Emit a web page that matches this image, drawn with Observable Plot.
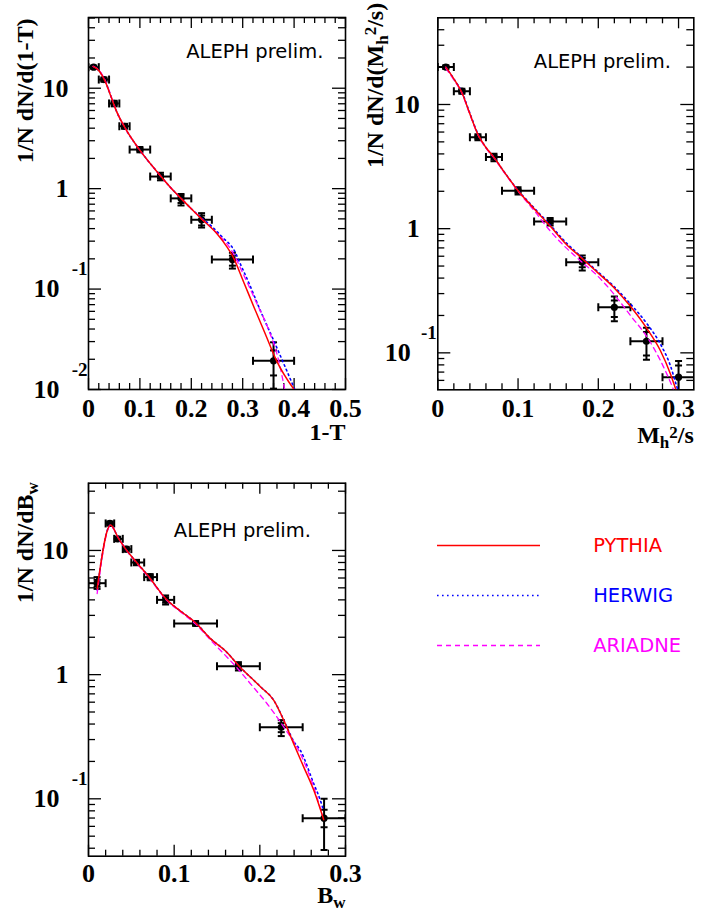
<!DOCTYPE html>
<html><head><meta charset="utf-8">
<script src="https://cdn.jsdelivr.net/npm/d3@7"></script>
<script src="https://cdn.jsdelivr.net/npm/@observablehq/plot@0.6"></script>
<style>
body{margin:0;background:#fff;}
#root{position:relative;width:702px;height:911px;overflow:hidden;background:#fff;}
</style></head><body><div id="root"></div>
<script>
// ---------- Thrust (1-T) ----------
const thrustX    = [0.01, 0.03, 0.05, 0.07, 0.10, 0.14, 0.18, 0.22, 0.28, 0.36];
const thrustXlo  = [0.00, 0.02, 0.04, 0.06, 0.08, 0.12, 0.16, 0.20, 0.24, 0.32];
const thrustXhi  = [0.02, 0.04, 0.06, 0.08, 0.12, 0.16, 0.20, 0.24, 0.32, 0.40];
const thrustY    = [16.2, 12.2, 7.05, 4.18, 2.45, 1.32, 0.80, 0.49, 0.197, 0.0193];
const thrustYlo  = [15.6, 11.6, 6.6, 3.95, 2.30, 1.21, 0.68, 0.41, 0.16, 0.0102];
const thrustYhi  = [16.8, 12.8, 7.5, 4.42, 2.60, 1.44, 0.885, 0.57, 0.23, 0.0295];
const thrustStatLo = [15.9, 11.9, 6.85, 4.07, 2.38, 1.27, 0.72, 0.43, 0.171, 0.0138];
const thrustStatHi = [16.5, 12.5, 7.25, 4.30, 2.52, 1.38, 0.853, 0.54, 0.215, 0.0245];
const thrustPythiaX = [0.009, 0.02, 0.033, 0.043, 0.0525, 0.072, 0.098, 0.134, 0.16, 0.18, 0.20, 0.22, 0.25, 0.27, 0.28, 0.302, 0.322, 0.344, 0.366, 0.405];
const thrustPythiaY = [16.5, 15.0, 11.5, 8.45, 6.23, 3.95, 2.49, 1.46, 1.02, 0.80, 0.63, 0.50, 0.355, 0.26, 0.215, 0.117, 0.066, 0.0357, 0.0193, 0.0092];
const thrustHerwigX = [0.009, 0.02, 0.033, 0.043, 0.0525, 0.072, 0.098, 0.134, 0.16, 0.18, 0.20, 0.22, 0.24, 0.26, 0.285, 0.296, 0.309, 0.335, 0.36, 0.383, 0.402];
const thrustHerwigY = [16.5, 15.0, 11.6, 8.5, 6.23, 3.95, 2.49, 1.46, 1.02, 0.80, 0.63, 0.51, 0.42, 0.33, 0.235, 0.175, 0.125, 0.06, 0.031, 0.0166, 0.0098];
const thrustAriadneX = [0.009, 0.02, 0.033, 0.043, 0.0525, 0.072, 0.098, 0.134, 0.16, 0.18, 0.20, 0.22, 0.25, 0.28, 0.30, 0.328, 0.351, 0.370, 0.383];
const thrustAriadneY = [16.5, 15.2, 11.8, 8.6, 6.3, 3.95, 2.49, 1.46, 1.02, 0.80, 0.63, 0.50, 0.36, 0.235, 0.145, 0.071, 0.0386, 0.0194, 0.0092];
const thrustXTicks = [0, 0.1, 0.2, 0.3, 0.4, 0.5];
const thrustXText  = ["0", "0.1", "0.2", "0.3", "0.4", "0.5"];
const thrustYTicks = [0.01, 0.1, 1, 10];
const thrustYText  = ["10", "10", "1", "10"];
const thrustYExp   = ["-2", "-1", "", ""];

// ---------- Heavy jet mass (Mh^2/s) ----------
const massX    = [0.01, 0.03, 0.05, 0.07, 0.10, 0.14, 0.18, 0.22, 0.26, 0.30];
const massXlo  = [0.00, 0.02, 0.04, 0.06, 0.08, 0.12, 0.16, 0.20, 0.24, 0.28];
const massXhi  = [0.02, 0.04, 0.06, 0.08, 0.12, 0.16, 0.20, 0.24, 0.28, 0.32];
const massY    = [20.0, 12.8, 5.45, 3.77, 2.02, 1.14, 0.537, 0.233, 0.124, 0.0637];
const massYlo  = [19.3, 12.2, 5.15, 3.49, 1.88, 1.06, 0.46, 0.18, 0.088, 0.04];
const massYhi  = [20.7, 13.4, 5.75, 4.01, 2.16, 1.22, 0.608, 0.284, 0.159, 0.086];
const massStatLo = [19.6, 12.5, 5.3, 3.6, 1.95, 1.10, 0.49, 0.194, 0.095, 0.05];
const massStatHi = [20.4, 13.1, 5.6, 3.9, 2.09, 1.18, 0.58, 0.264, 0.147, 0.079];
const massPythiaX = [0.01, 0.02, 0.03, 0.04, 0.05, 0.06, 0.07, 0.08, 0.10, 0.12, 0.14, 0.16, 0.178, 0.1985, 0.219, 0.24, 0.2608, 0.2773, 0.2898, 0.2969, 0.302];
const massPythiaY = [20.0, 16.1, 12.5, 8.4, 5.75, 4.5, 3.75, 3.03, 2.02, 1.45, 1.05, 0.75, 0.59, 0.447, 0.338, 0.237, 0.156, 0.1045, 0.068, 0.05, 0.04];
const massHerwigX = [0.01, 0.02, 0.03, 0.04, 0.05, 0.06, 0.07, 0.08, 0.10, 0.12, 0.14, 0.16, 0.178, 0.1985, 0.219, 0.24, 0.2608, 0.2773, 0.2898, 0.298, 0.303];
const massHerwigY = [20.0, 16.1, 12.6, 8.5, 5.8, 4.5, 3.75, 3.03, 2.04, 1.47, 1.07, 0.77, 0.60, 0.455, 0.345, 0.248, 0.171, 0.118, 0.079, 0.053, 0.042];
const massAriadneX = [0.01, 0.02, 0.03, 0.04, 0.05, 0.06, 0.07, 0.08, 0.10, 0.12, 0.14, 0.16, 0.178, 0.1985, 0.219, 0.24, 0.2608, 0.2773, 0.294, 0.298];
const massAriadneY = [19.5, 15.8, 12.3, 8.3, 5.7, 4.45, 3.72, 3.0, 2.0, 1.40, 0.96, 0.70, 0.55, 0.42, 0.30, 0.20, 0.134, 0.087, 0.05, 0.043];
const massXTicks = [0, 0.1, 0.2, 0.3];
const massXText  = ["0", "0.1", "0.2", "0.3"];
const massYTicks = [0.1, 1, 10];
const massYText  = ["10", "1", "10"];
const massYExp   = ["-1", "", ""];

// ---------- Wide jet broadening (Bw) ----------
const bwX    = [0.01, 0.025, 0.034, 0.044, 0.056, 0.072, 0.09, 0.125, 0.175, 0.225, 0.275];
const bwXlo  = [0.00, 0.02, 0.03, 0.04, 0.05, 0.065, 0.08, 0.10, 0.15, 0.20, 0.25];
const bwXhi  = [0.02, 0.03, 0.04, 0.05, 0.065, 0.08, 0.10, 0.15, 0.20, 0.25, 0.30];
const bwY    = [5.45, 16.5, 12.4, 10.25, 8.0, 6.1, 4.0, 2.58, 1.17, 0.377, 0.0698];
const bwYlo  = [4.9, 15.9, 11.9, 9.8, 7.6, 5.75, 3.67, 2.47, 1.08, 0.32, 0.0387];
const bwYhi  = [6.1, 17.1, 12.9, 10.7, 8.4, 6.45, 4.34, 2.70, 1.26, 0.43, 0.100];
const bwStatLo = [5.1, 16.1, 12.1, 10.0, 7.8, 5.9, 3.8, 2.52, 1.12, 0.344, 0.059];
const bwStatHi = [5.8, 16.9, 12.7, 10.5, 8.2, 6.3, 4.2, 2.64, 1.22, 0.407, 0.0817];
const bwPythiaX = [0.0101, 0.0257, 0.035, 0.0432, 0.055, 0.07, 0.09, 0.11, 0.125, 0.1424, 0.16, 0.1754, 0.2007, 0.2163, 0.228, 0.2396, 0.2513, 0.263, 0.2745];
const bwPythiaY = [4.9, 16.0, 12.5, 10.3, 8.2, 6.2, 4.1, 3.15, 2.62, 1.95, 1.55, 1.18, 0.80, 0.62, 0.428, 0.277, 0.18, 0.117, 0.068];
const bwHerwigX = [0.0101, 0.0257, 0.035, 0.0432, 0.055, 0.07, 0.09, 0.11, 0.125, 0.1424, 0.16, 0.1754, 0.2007, 0.2163, 0.228, 0.2396, 0.2474, 0.263, 0.2707, 0.2745];
const bwHerwigY = [4.8, 16.0, 12.5, 10.3, 8.2, 6.2, 4.1, 3.15, 2.62, 1.95, 1.55, 1.18, 0.80, 0.62, 0.43, 0.29, 0.245, 0.132, 0.097, 0.08];
const bwAriadneX = [0.0101, 0.0257, 0.035, 0.0432, 0.055, 0.07, 0.09, 0.11, 0.125, 0.1424, 0.1618, 0.175, 0.189, 0.2085, 0.228, 0.2474, 0.263, 0.2727];
const bwAriadneY = [4.5, 15.8, 12.6, 10.3, 8.1, 6.1, 4.05, 3.1, 2.55, 1.9, 1.38, 1.1, 0.845, 0.583, 0.378, 0.23, 0.124, 0.075];
const bwXTicks = [0, 0.1, 0.2, 0.3];
const bwXText  = ["0", "0.1", "0.2", "0.3"];
const bwYTicks = [0.1, 1, 10];
const bwYText  = ["10", "1", "10"];
const bwYExp   = ["-1", "", ""];

// ---------- Legend ----------
const modelNames  = ["PYTHIA", "HERWIG", "ARIADNE"];
const modelColors = ["#ff0000", "#0000ff", "#ff00ff"];
const modelDashes = ["none", "1.6,3.4", "5,4"];
const modelWidths = [1.5, 1.6, 1.3];

const SERIF = "'Liberation Serif','Times New Roman',serif";
const SANS = "'DejaVu Sans',sans-serif";

function table(x, y, xlo, xhi, ylo, yhi, slo, shi) {
  return x.map((v, i) => ({x: v, y: y[i], xlo: xlo[i], xhi: xhi[i], ylo: ylo[i], yhi: yhi[i], slo: slo[i], shi: shi[i]}));
}
function curve(x, y) { return x.map((v, i) => ({x: v, y: y[i]})); }
function logMinor(domain) {
  const out = [];
  for (let k = -3; k <= 2; k++) for (let m = 2; m <= 9; m++) {
    const v = m * Math.pow(10, k);
    if (v >= domain[0] && v <= domain[1]) out.push(v);
  }
  return out;
}
function linMinor(domain, step) {
  const out = [];
  for (let i = 0; i * step <= domain[1] + 1e-9; i++) {
    const v = +(i * step).toFixed(4);
    if (Math.abs(v * 10 - Math.round(v * 10)) > 1e-6) out.push(v);
  }
  return out;
}
const hCap = {draw(ctx, size) { const r = Math.sqrt(size / Math.PI); ctx.moveTo(-r, 0); ctx.lineTo(r, 0); }};
const vCap = {draw(ctx, size) { const r = Math.sqrt(size / Math.PI); ctx.moveTo(0, -r); ctx.lineTo(0, r); }};

function richify(svg, str, segs, supShift) {
  const t = Array.from(svg.querySelectorAll("text")).find(el => el.textContent === str);
  if (!t) return;
  while (t.firstChild) t.removeChild(t.firstChild);
  let shift = 0;
  for (const s of segs) {
    const ts = document.createElementNS("http://www.w3.org/2000/svg", "tspan");
    ts.textContent = s.t;
    const target = s.sub ? 5 : s.sup ? supShift : 0;
    if (target - shift !== 0) ts.setAttribute("dy", target - shift);
    shift = target;
    if (s.sub || s.sup) ts.setAttribute("font-size", 17);
    t.appendChild(ts);
  }
}

function panel(c) {
  const W = c.width - c.ml - c.mr, H = c.height - c.mt - c.mb;
  const pts = table(...c.pts);
  const xMajor = c.xTicks;
  const xMinor = linMinor(c.xDomain, 0.02);
  const yMajor = c.yTicks.filter(v => v >= c.yDomain[0] && v <= c.yDomain[1]);
  const yMinor = logMinor(c.yDomain);
  const tk = {stroke: "#000", strokeWidth: 1.3};
  const eb = {stroke: "#000", strokeWidth: 2, clip: true};
  const marks = [
    Plot.tickX(xMinor, {x: d => d, insetTop: H - 6, ...tk}),
    Plot.tickX(xMinor, {x: d => d, insetBottom: H - 6, ...tk}),
    Plot.tickX(xMajor, {x: d => d, insetTop: H - 11, ...tk}),
    Plot.tickX(xMajor, {x: d => d, insetBottom: H - 11, ...tk}),
    Plot.tickY(yMinor, {y: d => d, insetRight: W - 7, ...tk}),
    Plot.tickY(yMinor, {y: d => d, insetLeft: W - 7, ...tk}),
    Plot.tickY(yMajor, {y: d => d, insetRight: W - 13, ...tk}),
    Plot.tickY(yMajor, {y: d => d, insetLeft: W - 13, ...tk}),
    Plot.frame({stroke: "#000", strokeWidth: 1.6}),
    // error bars
    Plot.ruleY(pts, {y: "y", x1: "xlo", x2: "xhi", ...eb}),
    Plot.ruleX(pts, {x: "x", y1: "ylo", y2: "yhi", ...eb}),
    Plot.dot(pts, {x: "xlo", y: "y", symbol: vCap, r: 4, fill: "none", ...eb}),
    Plot.dot(pts, {x: "xhi", y: "y", symbol: vCap, r: 4, fill: "none", ...eb}),
    Plot.dot(pts, {x: "x", y: "ylo", symbol: hCap, r: 3.5, fill: "none", ...eb}),
    Plot.dot(pts, {x: "x", y: "yhi", symbol: hCap, r: 3.5, fill: "none", ...eb}),
    Plot.dot(pts, {x: "x", y: "slo", symbol: hCap, r: 3.5, fill: "none", ...eb}),
    Plot.dot(pts, {x: "x", y: "shi", symbol: hCap, r: 3.5, fill: "none", ...eb}),
    Plot.dot(pts, {x: "x", y: "y", r: 3.6, fill: "#000", stroke: "none", clip: true}),
  ];
  // model curves: HERWIG, ARIADNE, PYTHIA on top
  for (const i of [1, 2, 0]) {
    marks.push(Plot.line(c.curves[i], {x: "x", y: "y", stroke: modelColors[i], strokeWidth: modelWidths[i],
      strokeDasharray: modelDashes[i] === "none" ? undefined : modelDashes[i], curve: "monotone-x", clip: true}));
  }
  // tick labels
  const lab = {fontFamily: SERIF, fontWeight: "bold", fill: "#000"};
  marks.push(Plot.text(xMajor, {x: d => d, text: (d, i) => c.xText[i], frameAnchor: "bottom", dy: c.xLabDy, fontSize: 26, lineAnchor: "middle", ...lab}));
  const plain = c.yTicks.map((v, i) => ({v, t: c.yText[i], e: c.yExp[i]})).filter(d => d.e === "");
  const expo = c.yTicks.map((v, i) => ({v, t: c.yText[i], e: c.yExp[i]})).filter(d => d.e !== "");
  marks.push(Plot.text(plain, {y: "v", text: "t", frameAnchor: "left", textAnchor: "end", dx: c.yLabDx, fontSize: 26, ...lab}));
  marks.push(Plot.text(expo, {y: "v", text: "t", frameAnchor: "left", textAnchor: "end", dx: c.yLabDx - 9, fontSize: 26, ...lab}));
  marks.push(Plot.text(expo, {y: "v", text: "e", frameAnchor: "left", textAnchor: "end", dx: -1, dy: -20, fontSize: 19, ...lab}));
  // titles
  marks.push(Plot.text([c.ytitle], {text: d => d, frameAnchor: "top-left", rotate: -90, textAnchor: "end", lineAnchor: "middle",
    dx: c.ytDx, dy: c.ytDy, fontSize: 24, ...lab}));
  marks.push(Plot.text([c.xtitle], {text: d => d, frameAnchor: "bottom-right", textAnchor: "end", lineAnchor: "middle",
    dy: c.xtDy, fontSize: 24, ...lab}));
  marks.push(Plot.text(["ALEPH prelim."], {text: d => d, frameAnchor: "top-left", textAnchor: "start", lineAnchor: "middle",
    dx: c.alDx, dy: c.alDy, fontFamily: SANS, fontSize: 19.5, fill: "#000"}));
  const svg = Plot.plot({
    width: c.width, height: c.height,
    marginLeft: c.ml, marginRight: c.mr, marginTop: c.mt, marginBottom: c.mb,
    x: {type: "linear", domain: c.xDomain, axis: null},
    y: {type: "log", domain: c.yDomain, axis: null},
    style: {position: "absolute", left: c.left + "px", top: c.top + "px", overflow: "visible", background: "transparent", maxWidth: "none"},
    marks
  });
  if (c.yRich) richify(svg, c.ytitle, c.yRich, -7);
  if (c.xRich) richify(svg, c.xtitle, c.xRich, -5);
  return svg;
}

const root = document.getElementById("root");

root.appendChild(panel({
  left: 0, top: 0, width: 360, height: 450, ml: 88, mr: 15, mt: 17, mb: 61,
  xDomain: [0, 0.5], yDomain: [0.01, 50.6],
  pts: [thrustX, thrustY, thrustXlo, thrustXhi, thrustYlo, thrustYhi, thrustStatLo, thrustStatHi],
  curves: [curve(thrustPythiaX, thrustPythiaY), curve(thrustHerwigX, thrustHerwigY), curve(thrustAriadneX, thrustAriadneY)],
  xTicks: thrustXTicks, xText: thrustXText, yTicks: thrustYTicks, yText: thrustYText, yExp: thrustYExp,
  xLabDy: 19, yLabDx: -20,
  ytitle: "1/N dN/d(1-T)", ytDx: -63, ytDy: 1,
  xtitle: "1-T", xtDy: 43,
  alDx: 97.7, alDy: 34.7
}));

root.appendChild(panel({
  left: 360, top: 0, width: 342, height: 450, ml: 77.3, mr: 8.7, mt: 17.3, mb: 60.7,
  xDomain: [0, 0.319], yDomain: [0.0504, 49.9],
  pts: [massX, massY, massXlo, massXhi, massYlo, massYhi, massStatLo, massStatHi],
  curves: [curve(massPythiaX, massPythiaY), curve(massHerwigX, massHerwigY), curve(massAriadneX, massAriadneY)],
  xTicks: massXTicks, xText: massXText, yTicks: massYTicks, yText: massYText, yExp: massYExp,
  xLabDy: 19, yLabDx: -18,
  ytitle: "1/N dN/d(Mh2/s)", ytDx: -62.3, ytDy: -15,
  yRich: [{t: "1/N dN/d(M"}, {t: "h", sub: true}, {t: "2", sup: true}, {t: "/s)"}],
  xtitle: "Mh2/s", xtDy: 46,
  xRich: [{t: "M"}, {t: "h", sub: true}, {t: "2", sup: true}, {t: "/s"}],
  alDx: 96, alDy: 44.4
}));

root.appendChild(panel({
  left: 0, top: 450, width: 360, height: 461, ml: 88, mr: 15, mt: 32.7, mb: 55.3,
  xDomain: [0, 0.3], yDomain: [0.0345, 34.8],
  pts: [bwX, bwY, bwXlo, bwXhi, bwYlo, bwYhi, bwStatLo, bwStatHi],
  curves: [curve(bwPythiaX, bwPythiaY), curve(bwHerwigX, bwHerwigY), curve(bwAriadneX, bwAriadneY)],
  xTicks: bwXTicks, xText: bwXText, yTicks: bwYTicks, yText: bwYText, yExp: bwYExp,
  xLabDy: 17, yLabDx: -20,
  ytitle: "1/N dN/dBw", ytDx: -63, ytDy: -1,
  yRich: [{t: "1/N dN/dB"}, {t: "w", sub: true}],
  xtitle: "Bw", xtDy: 39,
  xRich: [{t: "B"}, {t: "w", sub: true}],
  alDx: 85.3, alDy: 47.3
}));

// legend
const legendMarks = [];
modelNames.forEach((name, i) => {
  legendMarks.push(Plot.ruleY([name], {y: d => d, x1: 0, x2: 1, stroke: modelColors[i], strokeWidth: modelWidths[i],
    strokeDasharray: modelDashes[i] === "none" ? undefined : modelDashes[i]}));
  legendMarks.push(Plot.text([name], {y: d => d, x: 1, text: d => d, dx: 52.7, textAnchor: "start", lineAnchor: "middle",
    fill: modelColors[i], fontFamily: SANS, fontSize: 19.5}));
});
root.appendChild(Plot.plot({
  width: 282, height: 210, marginLeft: 0, marginRight: 0, marginTop: 0, marginBottom: 0,
  x: {type: "linear", domain: [0, 1], range: [17, 120], axis: null},
  y: {type: "point", domain: modelNames, range: [30, 180], axis: null},
  style: {position: "absolute", left: "420px", top: "490px", overflow: "visible", background: "transparent", maxWidth: "none"},
  marks: legendMarks
}));
</script></body></html>
